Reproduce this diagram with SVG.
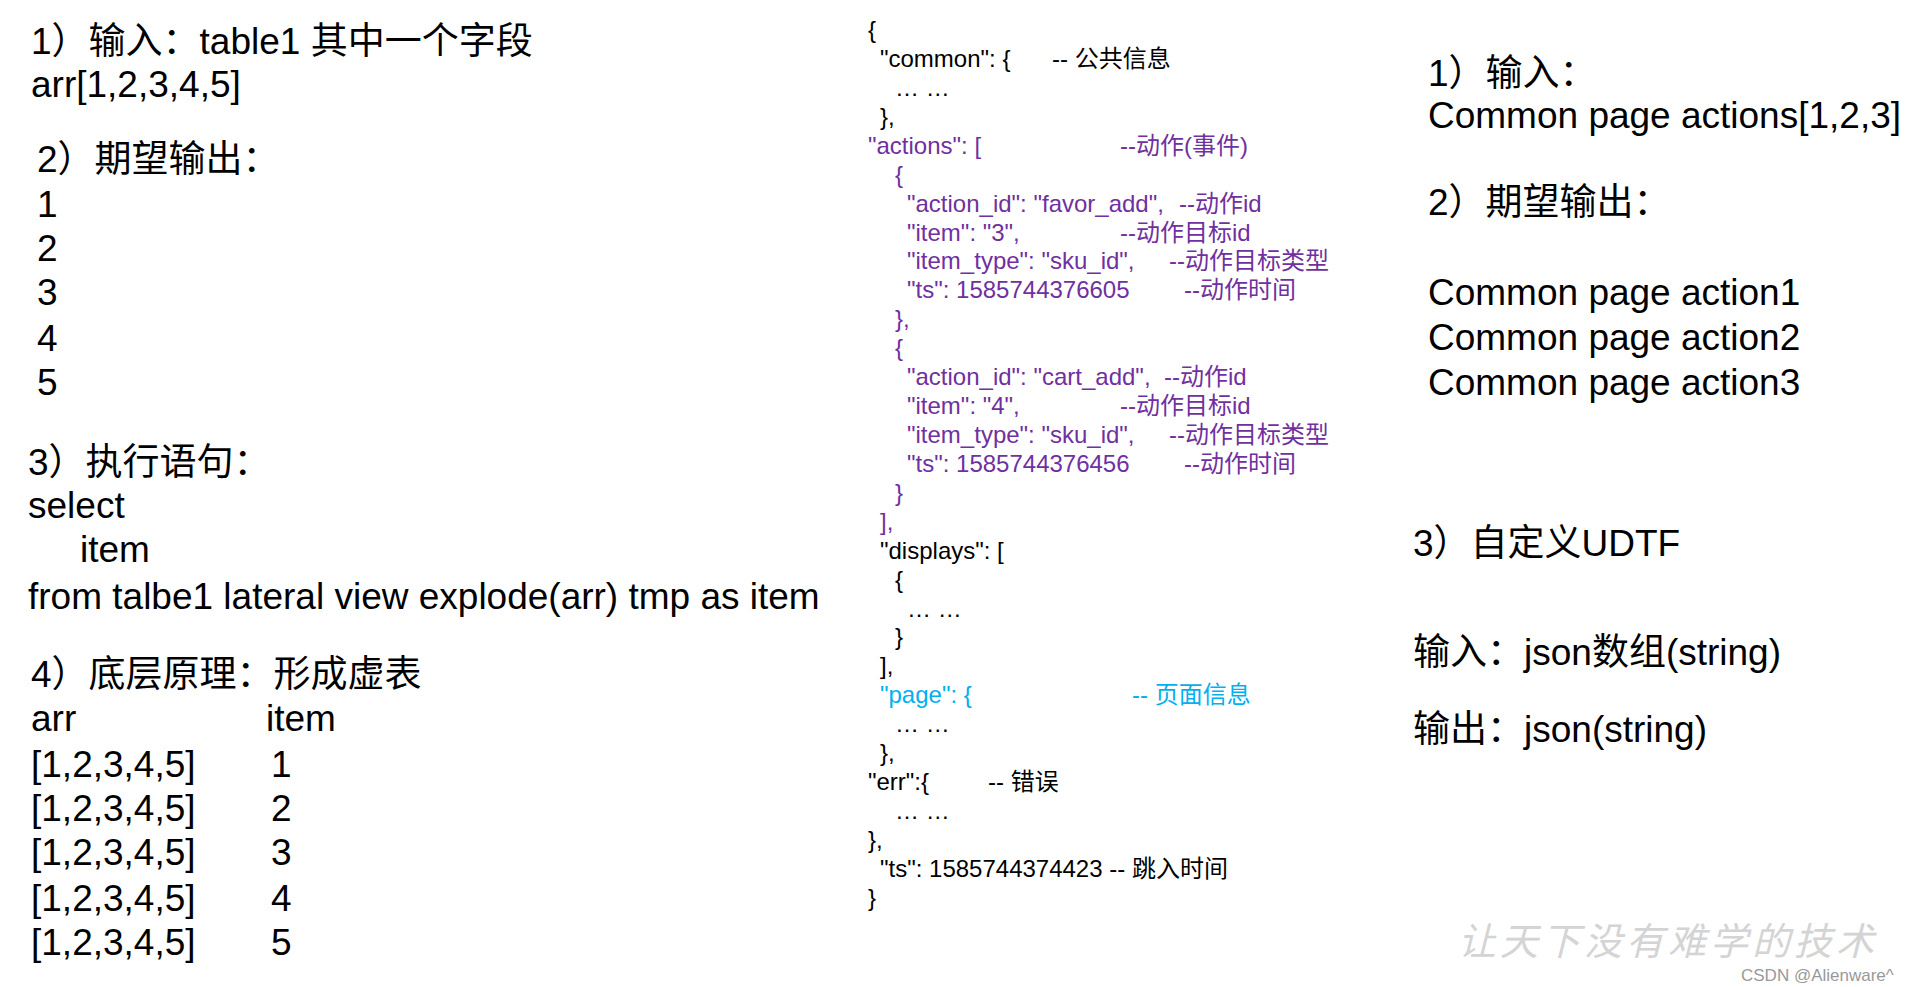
<svg xmlns="http://www.w3.org/2000/svg" width="1920" height="987" viewBox="0 0 1920 987">
<style>
text{font-family:"Liberation Sans","Noto Sans CJK SC",sans-serif;fill:#000}
.b{font-size:37px}
.j{font-size:24px}
.p{fill:#7030A0}
.c{fill:#00B0F0}
.wm{font-family:"Noto Sans CJK SC",serif;font-size:38px;fill:#d4d4d4;letter-spacing:4px;font-style:italic}
.cs{font-size:17px;fill:#999}
</style>
<rect width="1920" height="987" fill="#fff"/>
<g id="left" class="b">
<text class="b" x="31" y="54">1）输入：table1   其中一个字段</text>
<text class="b" x="31" y="97">arr[1,2,3,4,5]</text>
<text class="b" x="37" y="172">2）期望输出：</text>
<text class="b" x="37" y="217">1</text>
<text class="b" x="37" y="261">2</text>
<text class="b" x="37" y="305">3</text>
<text class="b" x="37" y="351">4</text>
<text class="b" x="37" y="395">5</text>
<text class="b" x="28" y="475">3）执行语句：</text>
<text class="b" x="28" y="518">select</text>
<text class="b" x="80" y="562">item</text>
<text class="b" x="28" y="609">from talbe1 lateral view explode(arr) tmp as item</text>
<text class="b" x="31" y="687">4）底层原理：形成虚表</text>
<text class="b" x="31" y="731">arr</text><text class="b" x="266" y="731">item</text>
<text class="b" x="31" y="777">[1,2,3,4,5]</text><text class="b" x="271" y="777">1</text>
<text class="b" x="31" y="821">[1,2,3,4,5]</text><text class="b" x="271" y="821">2</text>
<text class="b" x="31" y="865">[1,2,3,4,5]</text><text class="b" x="271" y="865">3</text>
<text class="b" x="31" y="911">[1,2,3,4,5]</text><text class="b" x="271" y="911">4</text>
<text class="b" x="31" y="955">[1,2,3,4,5]</text><text class="b" x="271" y="955">5</text>
</g>
<g id="json" class="j">
<text class="j" x="868" y="38">{</text>
<text class="j" x="880" y="67">"common": {</text><text class="j" x="1052" y="67">-- 公共信息</text>
<text class="j" x="895" y="96">… …</text>
<text class="j" x="880" y="125">},</text>
<text class="j p" x="868" y="154">"actions": [</text><text class="j p" x="1120" y="154">--动作(事件)</text>
<text class="j p" x="895" y="183">{</text>
<text class="j p" x="907" y="212">"action_id": "favor_add",</text><text class="j p" x="1179" y="212">--动作id</text>
<text class="j p" x="907" y="241">"item": "3",</text><text class="j p" x="1120" y="241">--动作目标id</text>
<text class="j p" x="907" y="269">"item_type": "sku_id",</text><text class="j p" x="1169" y="269">--动作目标类型</text>
<text class="j p" x="907" y="298">"ts": 1585744376605</text><text class="j p" x="1184" y="298">--动作时间</text>
<text class="j p" x="895" y="327">},</text>
<text class="j p" x="895" y="356">{</text>
<text class="j p" x="907" y="385">"action_id": "cart_add",</text><text class="j p" x="1164" y="385">--动作id</text>
<text class="j p" x="907" y="414">"item": "4",</text><text class="j p" x="1120" y="414">--动作目标id</text>
<text class="j p" x="907" y="443">"item_type": "sku_id",</text><text class="j p" x="1169" y="443">--动作目标类型</text>
<text class="j p" x="907" y="472">"ts": 1585744376456</text><text class="j p" x="1184" y="472">--动作时间</text>
<text class="j p" x="895" y="501">}</text>
<text class="j p" x="880" y="530">],</text>
<text class="j" x="880" y="559">"displays": [</text>
<text class="j" x="895" y="588">{</text>
<text class="j" x="907" y="617">… …</text>
<text class="j" x="895" y="645">}</text>
<text class="j" x="880" y="674">],</text>
<text class="j c" x="880" y="703">"page": {</text><text class="j c" x="1132" y="703">-- 页面信息</text>
<text class="j" x="895" y="732">… …</text>
<text class="j" x="880" y="761">},</text>
<text class="j" x="868" y="790">"err":{</text><text class="j" x="988" y="790">-- 错误</text>
<text class="j" x="895" y="819">… …</text>
<text class="j" x="868" y="848">},</text>
<text class="j" x="880" y="877">"ts": 1585744374423  -- 跳入时间</text>
<text class="j" x="868" y="906">}</text>
</g>
<g id="right" class="b">
<text class="b" x="1428" y="86">1）输入：</text>
<text class="b" x="1428" y="128">Common page actions[1,2,3]</text>
<text class="b" x="1428" y="215">2）期望输出：</text>
<text class="b" x="1428" y="305">Common page action1</text>
<text class="b" x="1428" y="350">Common page action2</text>
<text class="b" x="1428" y="395">Common page action3</text>
<text class="b" x="1413" y="556">3）自定义UDTF</text>
<text class="b" x="1413" y="665">输入：json数组(string)</text>
<text class="b" x="1413" y="742">输出：json(string)</text>
</g>
<g id="watermark">
<text class="wm" x="1458" y="955">让天下没有难学的技术</text>
<text class="cs" x="1741" y="981">CSDN @Alienware^</text>
</g>
</svg>
